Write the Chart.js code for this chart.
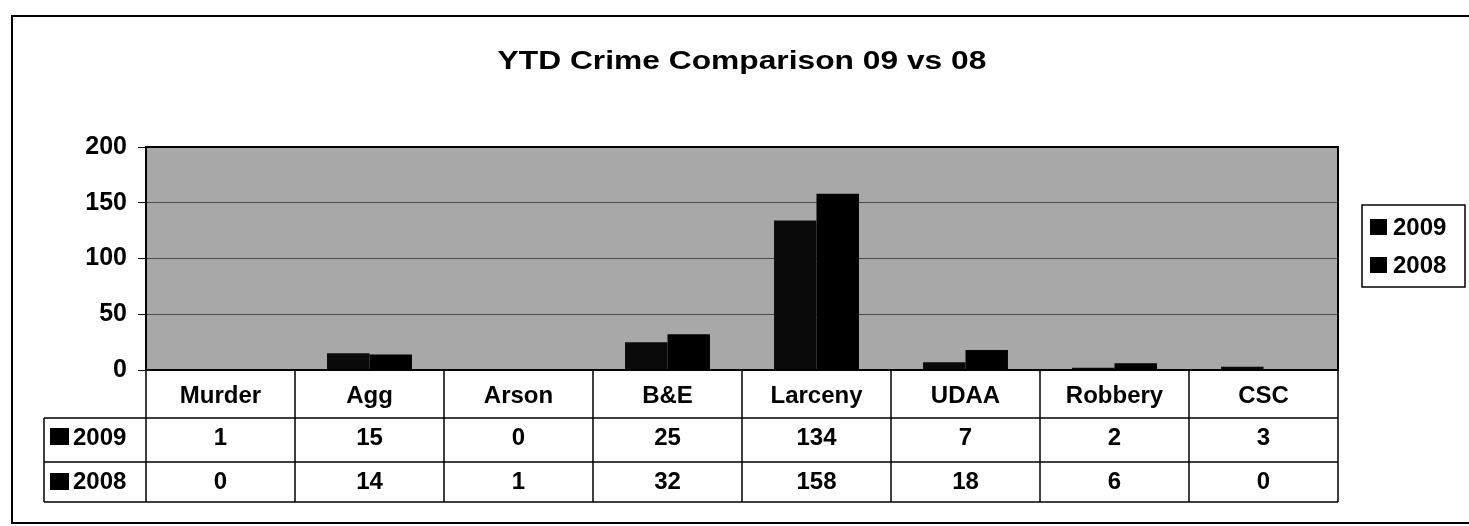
<!doctype html>
<html>
	<head>
		<meta charset="UTF-8" />
		<script src="https://cdn.jsdelivr.net/npm/chart.js"></script>
		<style type="text/css">
			body{margin:0;background:#fff;}
		</style>
	</head>
	<body>
		<canvas id="crimeChart" width="1469" height="526"></canvas>
		<script>
			// data
			const categories = ['Murder', 'Agg', 'Arson', 'B&E', 'Larceny', 'UDAA', 'Robbery', 'CSC'];
			const ytd2009 = [1, 15, 0, 25, 134, 7, 2, 3];
			const ytd2008 = [0, 14, 1, 32, 158, 18, 6, 0];
			const seriesNames = ['2009', '2008'];
			const yTicks = [0, 50, 100, 150, 200];
			const chartTitle = 'YTD Crime Comparison 09 vs 08';

			const FONT = '"Liberation Sans", Arial, sans-serif';

			// draws the frame, title, data table and legend round the plot
			const tablePlugin = {
				id: 'crimeTable',
				beforeDraw(chart) {
					const ctx = chart.ctx, a = chart.chartArea;
					ctx.save();
					ctx.fillStyle = '#fff';
					ctx.fillRect(0, 0, chart.width, chart.height);
					ctx.fillStyle = '#a8a8a8';
					ctx.fillRect(a.left, a.top, a.right - a.left, a.bottom - a.top);
					ctx.restore();
				},
				afterDraw(chart) {
					const ctx = chart.ctx, a = chart.chartArea, x = chart.scales.x;
					const colW = (a.right - a.left) / categories.length;
					const rowTop = [a.bottom, 418, 462, 502];
					const tableLeft = 44;
					ctx.save();
					ctx.strokeStyle = '#000';
					ctx.fillStyle = '#000';

					// outer frame
					ctx.lineWidth = 2;
					ctx.strokeRect(12, 16, 1470, 507);

					// plot border
					ctx.strokeRect(a.left, a.top, a.right - a.left, a.bottom - a.top);

					// title
					ctx.save();
					ctx.font = 'bold 25px ' + FONT;
					ctx.textAlign = 'center';
					ctx.textBaseline = 'alphabetic';
					ctx.translate((a.left + a.right) / 2, 69);
					ctx.scale(1.27, 1.05);
					ctx.fillText(chartTitle, 0, 0);
					ctx.restore();

					// table grid
					ctx.lineWidth = 1.5;
					ctx.beginPath();
					for (let r = 1; r < rowTop.length; r++) {
						ctx.moveTo(r === 1 ? a.left : tableLeft, rowTop[r]);
						ctx.lineTo(a.right, rowTop[r]);
					}
					ctx.moveTo(tableLeft, rowTop[1]);
					ctx.lineTo(tableLeft, rowTop[3]);
					ctx.moveTo(tableLeft, rowTop[1]);
					ctx.lineTo(a.left, rowTop[1]);
					for (let i = 0; i <= categories.length; i++) {
						const cx = a.left + i * colW;
						ctx.moveTo(cx, rowTop[0]);
						ctx.lineTo(cx, rowTop[3]);
					}
					ctx.stroke();

					// table text
					ctx.font = 'bold 24px ' + FONT;
					ctx.textAlign = 'center';
					ctx.textBaseline = 'alphabetic';
					categories.forEach((c, i) => {
						const cx = x.getPixelForValue(i);
						ctx.fillText(c, cx, 403);
						ctx.fillText(String(ytd2009[i]), cx, 445);
						ctx.fillText(String(ytd2008[i]), cx, 489);
					});

					// row headers
					ctx.textAlign = 'left';
					ctx.fillRect(50, 428, 19, 17);
					ctx.fillText(seriesNames[0], 73, 445);
					ctx.fillRect(50, 473, 19, 17);
					ctx.fillText(seriesNames[1], 73, 489);

					// legend
					ctx.lineWidth = 1.5;
					ctx.strokeRect(1362, 205, 103, 82);
					ctx.fillRect(1370, 219, 17, 16);
					ctx.fillText(seriesNames[0], 1393, 235);
					ctx.fillRect(1370, 257, 17, 16);
					ctx.fillText(seriesNames[1], 1393, 273);
					ctx.restore();
				}
			};

			const data = {
				labels: categories,
				datasets: [{
					label: seriesNames[0],
					data: ytd2009,
					backgroundColor: '#0a0a0a',
					barPercentage: 1.0,
					categoryPercentage: 0.57
				}, {
					label: seriesNames[1],
					data: ytd2008,
					backgroundColor: '#000',
					barPercentage: 1.0,
					categoryPercentage: 0.57
				}]
			};

			const config = {
				type: 'bar',
				data,
				options: {
					responsive: false,
					animation: false,
					devicePixelRatio: 1,
					layout: {
						padding: {left: 0, right: 131, top: 147, bottom: 156}
					},
					plugins: {
						legend: {display: false},
						title: {display: false},
						tooltip: {enabled: false}
					},
					scales: {
						x: {
							display: false
						},
						y: {
							min: yTicks[0],
							max: yTicks[yTicks.length - 1],
							afterBuildTicks: s => { s.ticks = yTicks.map(v => ({value: v})); },
							afterFit: s => { s.width = 146; },
							border: {display: false},
							grid: {
								color: c => (c.tick && (c.tick.value === 0 || c.tick.value === 200)) ? 'rgba(0,0,0,0)' : '#4a4a4a',
								lineWidth: 1,
								tickColor: '#000',
								tickLength: 8
							},
							ticks: {
								color: '#000',
								padding: 11,
								font: {family: FONT, size: 25, weight: 'bold'}
							}
						}
					}
				},
				plugins: [tablePlugin]
			};

			const crimeChart = new Chart(document.getElementById('crimeChart'), config);
		</script>
	</body>
</html>
